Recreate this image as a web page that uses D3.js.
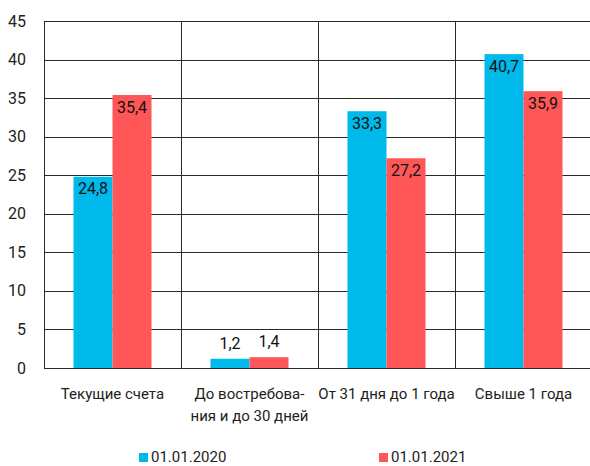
<!DOCTYPE html>
<html><head><meta charset="utf-8">
<script src="https://cdn.jsdelivr.net/npm/d3@7"></script>
<style>body{margin:0;background:#fff}svg{display:block}text{font-family:Roboto,"Noto Sans",sans-serif}</style>
</head><body>
<svg id="c" width="590" height="466"></svg>
<script>
const categories = [["Текущие счета"], ["До востребова-", "ния и до 30 дней"], ["От 31 дня до 1 года"], ["Свыше 1 года"]];
const series2020 = [24.8, 1.2, 33.3, 40.7];
const series2021 = [35.4, 1.4, 27.2, 35.9];
const seriesNames = ["01.01.2020", "01.01.2021"];
const colors = ["#00B9EB", "#FF5757"];
const yTicks = [0, 5, 10, 15, 20, 25, 30, 35, 40, 45];

const svg = d3.select("#c");
const L = 44, R = 592, T = 21, B = 368;
const x = d3.scaleBand().domain(d3.range(categories.length)).range([L, R]);
const x1 = d3.scaleBand().domain([0, 1]).range([0, x.bandwidth()]).paddingOuter(0.7564);
const y = d3.scaleLinear().domain([0, 45]).range([B, T]);

// grid
svg.append("g").selectAll("line").data(yTicks).join("line")
  .attr("x1", L).attr("x2", R).attr("y1", d => Math.round(y(d)) + 0.5).attr("y2", d => Math.round(y(d)) + 0.5)
  .attr("stroke", "#2a2a2a").attr("stroke-width", 1);
svg.append("g").selectAll("line").data(d3.range(categories.length)).join("line")
  .attr("x1", d => Math.round(x(d)) + 0.5).attr("x2", d => Math.round(x(d)) + 0.5)
  .attr("y1", T).attr("y2", B).attr("stroke", "#2a2a2a").attr("stroke-width", 1);

// y labels
svg.append("g").selectAll("text").data(yTicks).join("text")
  .attr("x", 26).attr("y", d => y(d) + 5.5).attr("text-anchor", "end")
  .attr("font-size", 16).attr("fill", "#222").text(d => d);

const data = categories.map((c, i) => [series2020[i], series2021[i]]);
const fmt = v => String(v).replace(".", ",");

const g = svg.append("g").selectAll("g").data(data).join("g")
  .attr("transform", (d, i) => `translate(${x(i)},0)`);
g.selectAll("rect").data(d => d).join("rect")
  .attr("x", (d, j) => x1(j)).attr("width", x1.bandwidth())
  .attr("y", d => y(d)).attr("height", d => B - y(d))
  .attr("fill", (d, j) => colors[j]);
g.selectAll("text").data(d => d).join("text")
  .attr("x", (d, j) => x1(j) + x1.bandwidth() / 2)
  .attr("y", d => d > 5 ? y(d) + 17.5 : y(d) - 10)
  .attr("text-anchor", "middle").attr("font-size", 16).attr("fill", "#111")
  .text(d => fmt(d));

// category labels
svg.append("g").selectAll("text").data(categories).join("text")
  .attr("x", (d, i) => x(i) + x.bandwidth() / 2).attr("y", 398.5)
  .attr("text-anchor", "middle").attr("font-size", 15).attr("fill", "#222")
  .selectAll("tspan").data(d => d).join("tspan")
  .attr("x", function() { return d3.select(this.parentNode).attr("x"); })
  .attr("dy", (d, k) => k === 0 ? 0 : 22).text(d => d);

// legend
const legX = [139, 379];
const lg = svg.append("g").selectAll("g").data(seriesNames).join("g")
  .attr("transform", (d, i) => `translate(${legX[i]},452)`);
lg.append("rect").attr("x", 0).attr("y", 1).attr("width", 9).attr("height", 9).attr("fill", (d, i) => colors[i]);
lg.append("text").attr("x", 12).attr("y", 10).attr("font-size", 15).attr("fill", "#222").text(d => d);
</script>
</body></html>
